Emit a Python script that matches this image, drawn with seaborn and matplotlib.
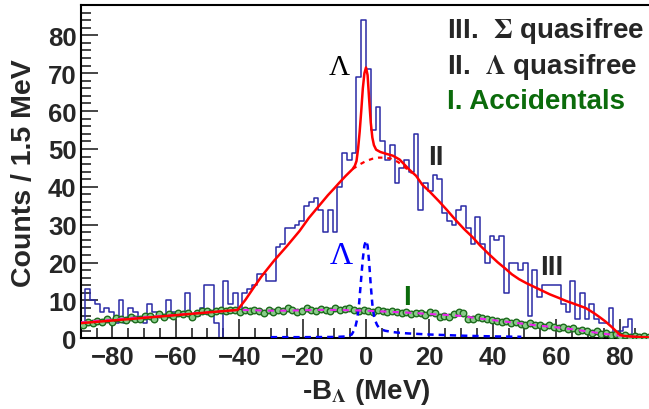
import numpy as np
import pandas as pd
import matplotlib
matplotlib.use("Agg")
import matplotlib.pyplot as plt
from matplotlib.ticker import MultipleLocator
import seaborn as sns

# histogram: counts per 1.5 MeV bin, from -90 to 90 MeV
bin_width = 1.5
counts = [4, 13, 10, 9, 7, 8, 7, 4, 10, 4,
          8, 7, 5, 4, 9, 7, 6, 5, 10, 7,
          6, 7, 12, 5, 6, 8, 14, 14, 4, 0,
          15, 9, 12, 7, 12, 13, 14, 17, 17, 15,
          15, 24, 25, 29, 29, 30, 31, 35, 36, 37,
          34, 28, 34, 28, 40, 49, 47, 49, 69, 84,
          71, 55, 61, 52, 47, 51, 41, 45, 47, 44,
          54, 34, 41, 39, 43, 42, 33, 31, 30, 34,
          35, 29, 25, 32, 25, 20, 27, 26, 27, 12,
          20, 20, 18, 20, 6, 18, 11, 14, 14, 14,
          14, 9, 7, 15, 5, 12, 5, 9, 5, 4,
          4, 8, 1, 2, 3, 5, 1, 0, 0, 1]

# accidentals (I), one point per bin
accidentals = [3.6, 4.2, 4.0, 4.5, 4.2, 5.0, 4.4, 5.3, 5.2, 4.8,
               5.6, 5.1, 5.0, 5.9, 6.0, 5.2, 6.3, 5.5, 6.4, 5.8,
               6.6, 6.5, 6.7, 5.6, 6.8, 7.2, 7.3, 6.6, 7.3, 7.5,
               7.2, 7.6, 7.4, 7.0, 7.6, 7.2, 7.5, 7.1, 6.8, 7.5,
               7.0, 7.4, 7.1, 7.9, 7.6, 7.0, 7.3, 7.9, 7.5, 7.1,
               7.8, 7.5, 7.2, 7.9, 7.4, 7.7, 8.0, 7.5, 7.1, 7.6,
               7.3, 7.0, 7.5, 7.2, 6.9, 7.3, 6.9, 6.6, 6.9, 6.4,
               6.8, 6.7, 6.2, 6.9, 6.6, 5.7, 5.9, 5.5, 6.4, 6.9,
               6.6, 5.2, 5.0, 5.6, 5.4, 5.2, 4.9, 4.6, 4.3, 4.5,
               4.1, 4.4, 3.9, 3.6, 4.0, 3.4, 3.5, 3.1, 3.4, 2.9,
               2.6, 3.0, 2.4, 2.7, 2.0, 2.3, 1.9, 1.5, 1.8, 1.2,
               1.4, 0.9, 1.1, 0.6, 0.8, 0.4, 0.6, 0.3, 0.5, 0.3]

# smooth fit of the accidentals (magenta dashed)
acc_fit_x = [-90, -85, -80, -75, -70, -65, -60, -55, -50, -45, -40, -35, -30,
             -25, -20, -15, -10, -5, 0, 5, 10, 15, 20, 25, 30, 35, 40, 45,
             50, 55, 60, 65, 70, 75, 80, 85, 90]
acc_fit_y = [4.2, 4.6, 4.9, 5.3, 5.6, 5.9, 6.2, 6.6, 6.9, 7.2, 7.5, 7.4, 7.3,
             7.3, 7.4, 7.5, 7.5, 7.4, 7.3, 7.1, 6.9, 6.7, 6.4, 6.2, 5.9, 5.3,
             4.8, 4.3, 3.8, 3.3, 2.9, 2.4, 1.8, 1.2, 0.7, 0.4, 0.2]

# total fit (red solid)
total_x = [-90, -65, -40.5, -38, -35.5, -33, -29, -25, -21, -18, -14.8, -12,
           -10, -8.5, -6.5, -4.2, -3.5, -3.0, -2.5, -2.0, -1.5, -1.0, -0.5,
           0, 0.5, 1.0, 1.5, 2.0, 2.5, 3.2, 4.5, 6.4, 8.5, 10.6, 13.7, 15.8,
           17.8, 20, 23, 25.5, 28.3, 31, 33.5, 36, 38.8, 41.5, 44.1, 46, 48.3,
           50.5, 52.5, 55, 58, 61, 63, 66, 69.3, 72, 74, 75.6, 77.5, 79, 80.2,
           81.5, 85, 90]
total_y = [4.0, 5.75, 7.5, 10.2, 13.3, 16.3, 20.5, 24.3, 28.3, 31.8, 35.0, 37.8,
           39.6, 41.0, 42.8, 44.7, 45.6, 46.8, 50.0, 54.5, 60.0, 66.0, 70.0,
           71.5, 69.5, 63.0, 57.0, 53.0, 51.0, 49.8, 49.2, 48.7, 48.2, 47.2,
           44.5, 42.9, 40.5, 38.8, 36.2, 33.9, 31.2, 28.8, 26.8, 24.5, 22.2,
           20.1, 18.3, 16.9, 15.6, 14.6, 13.8, 12.8, 11.6, 10.6, 9.9, 9.0, 8.0,
           6.6, 5.4, 4.4, 3.0, 1.8, 0.9, 0.6, 0.4, 0.2]

# total without the Lambda peak (red dotted)
nopeak_x = [-4.2, -2, 0, 2, 4, 6, 8, 10, 12.5, 14.5]
nopeak_y = [44.7, 45.9, 46.8, 47.4, 47.7, 47.7, 47.4, 46.6, 45.0, 43.6]

# Lambda bound-state peak (blue dashed)
peak_x = [-30, -20, -10, -6, -4.5, -3.5, -2.8, -2.2, -1.6, -1.0, -0.5, 0,
          0.5, 1.0, 1.5, 2.0, 2.5, 3.0, 3.5, 4, 5, 6, 8, 10, 13, 20, 30, 40, 49]
peak_y = [0.3, 0.3, 0.35, 0.5, 1.0, 2.5, 5.0, 9.0, 15.0, 21.0, 24.5, 25.8,
          24.5, 20.0, 14.0, 9.0, 6.0, 4.5, 3.5, 2.9, 2.3, 2.0, 1.7, 1.5, 1.3,
          1.0, 0.7, 0.5, 0.4]

centers = -90 + bin_width / 2 + bin_width * np.arange(len(counts))
hist_df = pd.DataFrame({"energy": centers, "counts": counts})

sns.set_style("ticks")
plt.rcParams["font.family"] = ["Liberation Sans", "DejaVu Sans"]
plt.rcParams["font.weight"] = "bold"
plt.rcParams["mathtext.fontset"] = "stix"

fig = plt.figure(figsize=(6.49, 4.10), dpi=100)
ax = fig.add_axes([80.7 / 649, 70.7 / 410, 570.6 / 649, 333.3 / 410])

sns.histplot(data=hist_df, x="energy", weights="counts", binwidth=bin_width,
             binrange=(-90, 90), element="step", fill=False,
             color="#2a2aa6", linewidth=1.1, ax=ax, zorder=2)

sns.lineplot(x=total_x, y=total_y, sort=False, estimator=None, color="#ff0000",
             linewidth=1.8, ax=ax, zorder=6)
ax.plot(nopeak_x, nopeak_y, color="#ff0000", linewidth=1.6, linestyle=(0, (2.0, 2.2)),
        zorder=6)
ax.plot(peak_x, peak_y, color="#0000ff", linewidth=1.8, linestyle=(0, (2.5, 2.0)),
        zorder=5)

sns.scatterplot(x=centers, y=accidentals, marker="o", s=22, color="#88cc88",
                edgecolor="#1d6b1d", linewidth=1.0, ax=ax, zorder=4)
ax.plot(acc_fit_x, acc_fit_y, color="#ee22ee", linewidth=1.5,
        linestyle=(0, (3, 3)), zorder=5)

ax.set_xlim(-90, 90)
ax.set_ylim(0, 88)
ax.xaxis.set_major_locator(MultipleLocator(20))
ax.xaxis.set_minor_locator(MultipleLocator(5))
ax.yaxis.set_major_locator(MultipleLocator(10))
ax.yaxis.set_minor_locator(MultipleLocator(2))
ax.tick_params(which="major", direction="in", length=14, width=1.2,
               labelsize=18.5, pad=5, top=False, right=False)
ax.tick_params(which="minor", direction="in", length=7, width=1.2,
               top=False, right=False)
ax.tick_params(axis="y", which="major", length=12, pad=3)
for lab in ax.get_xticklabels() + ax.get_yticklabels():
    lab.set_fontweight("bold")
for side in ax.spines.values():
    side.set_linewidth(1.5)
    side.set_color("black")

ax.set_xlabel(r"-B$_{\Lambda}$ (MeV)", fontsize=20, fontweight="bold", labelpad=5)
ax.set_ylabel("Counts / 1.5 MeV", fontsize=20.5, fontweight="bold", labelpad=8)

serif = ["Liberation Serif", "DejaVu Serif"]
ax.text(-8.4, 71.7, "\u039b", family=serif, fontsize=21, color="black",
        ha="center", va="center", fontweight="normal")
ax.text(-7.8, 21.8, "\u039b", family=serif, fontsize=23, color="#0000ff",
        ha="center", va="center", fontweight="normal")
ax.text(22.1, 47.8, "II", fontsize=20, fontweight="bold", ha="center", va="center")
ax.text(58.7, 18.9, "III", fontsize=20, fontweight="bold", ha="center", va="center")
ax.text(12.9, 10.9, "I", fontsize=20, fontweight="bold", color="#0b6b0b",
        ha="center", va="center")

fig.text(447 / 649, 1 - 38 / 410, r"III.  $\Sigma$ quasifree", fontsize=20,
         fontweight="bold", va="baseline", ha="left")
fig.text(447 / 649, 1 - 74 / 410, r"II.  $\Lambda$ quasifree", fontsize=20,
         fontweight="bold", va="baseline", ha="left")
fig.text(447 / 649, 1 - 109 / 410, "I. Accidentals", fontsize=20,
         fontweight="bold", va="baseline", ha="left", color="#0b6b0b")

fig.savefig("out.png", dpi=100)
